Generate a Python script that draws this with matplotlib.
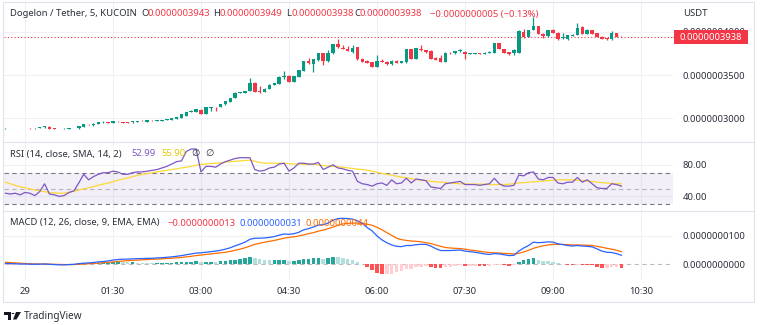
import numpy as np
import matplotlib.pyplot as plt
from matplotlib.lines import Line2D
from matplotlib.patches import Rectangle, Circle, Polygon

plt.rcParams['font.family'] = ['Noto Sans', 'DejaVu Sans']

# ---- data -----------------------------------------------------------------
# 5-minute candles, prices in units of 1e-10 USDT, first bar at 23:40
FIRST_BAR_MIN = -20
BAR_MIN = 5

OPEN = [2883, 2889, 2887, 2884, 2888, 2886, 2882, 2888, 2895, 2903,
        2882, 2876, 2874, 2880, 2884, 2882, 2905, 2928, 2918, 2932,
        2954, 2956, 2942, 2962, 2958, 2952, 2953, 2962, 2970, 2962,
        2972, 2966, 2972, 2978, 2985, 2992, 3002, 3032, 3076, 3072,
        3100, 3053, 3122, 3122, 3127, 3160, 3192, 3232, 3296, 3290,
        3315, 3410, 3310, 3300, 3340, 3385, 3400, 3480, 3490, 3420,
        3482, 3546, 3660, 3625, 3670, 3750, 3660, 3750, 3858, 3812,
        3800, 3762, 3820, 3690, 3660, 3650, 3596, 3660, 3655, 3625,
        3665, 3640, 3645, 3800, 3690, 3805, 3785, 3780, 3700, 3700,
        3655, 3760, 3750, 3775, 3770, 3748, 3745, 3750, 3748, 3752,
        3760, 3866, 3800, 3765, 3750, 3760, 4000, 3940, 4020, 4065,
        3975, 3945, 4020, 3990, 3925, 3912, 3955, 3962, 4060, 3975,
        4020, 3980, 3940, 3925, 3915, 3980, 3943]
HIGH = [2889, 2891, 2889, 2889, 2890, 2888, 2890, 2897, 2910, 2906,
        2884, 2878, 2882, 2886, 2890, 2912, 2936, 2932, 2940, 2956,
        2966, 2958, 2967, 2966, 2960, 2954, 2967, 2974, 2976, 2982,
        2976, 2979, 2982, 2993, 3008, 3020, 3048, 3072, 3090, 3106,
        3104, 3128, 3132, 3135, 3166, 3201, 3240, 3298, 3304, 3318,
        3460, 3425, 3370, 3345, 3392, 3412, 3490, 3550, 3495, 3492,
        3560, 3662, 3700, 3684, 3755, 3760, 3790, 3860, 3920, 3850,
        3840, 3850, 3825, 3700, 3670, 3655, 3730, 3690, 3662, 3670,
        3672, 3665, 3805, 3805, 3815, 3850, 3790, 3785, 3705, 3730,
        3762, 3768, 3782, 3800, 3775, 3760, 3760, 3755, 3762, 3775,
        3872, 3870, 3805, 3770, 3795, 4015, 4030, 4025, 4173, 4070,
        3980, 4025, 4030, 3995, 3990, 3965, 3970, 4100, 4065, 4030,
        4025, 3985, 3945, 3930, 4010, 3985, 3949]
LOW = [2881, 2884, 2882, 2882, 2883, 2880, 2881, 2886, 2893, 2872,
       2872, 2873, 2872, 2878, 2882, 2880, 2903, 2918, 2915, 2930,
       2950, 2940, 2940, 2958, 2949, 2948, 2951, 2960, 2965, 2960,
       2966, 2964, 2970, 2976, 2983, 2990, 3000, 3030, 3074, 3070,
       3050, 3050, 3083, 3080, 3125, 3158, 3190, 3230, 3290, 3288,
       3312, 3302, 3296, 3298, 3338, 3383, 3398, 3450, 3418, 3420,
       3478, 3544, 3630, 3540, 3665, 3620, 3655, 3745, 3815, 3795,
       3775, 3758, 3675, 3650, 3635, 3590, 3590, 3645, 3620, 3620,
       3635, 3635, 3640, 3685, 3685, 3780, 3760, 3685, 3668, 3650,
       3650, 3745, 3745, 3770, 3690, 3740, 3740, 3743, 3745, 3750,
       3755, 3795, 3752, 3730, 3730, 3755, 3928, 3935, 4015, 3970,
       3930, 3940, 3985, 3905, 3920, 3908, 3950, 3958, 3970, 3970,
       3970, 3935, 3915, 3908, 3910, 3940, 3938]
CLOSE = [2888, 2885, 2884, 2888, 2884, 2882, 2888, 2895, 2906, 2875,
         2874, 2874, 2880, 2884, 2888, 2910, 2934, 2922, 2938, 2954,
         2956, 2942, 2965, 2961, 2951, 2950, 2965, 2972, 2968, 2980,
         2970, 2977, 2980, 2992, 3007, 3018, 3046, 3070, 3086, 3104,
         3053, 3127, 3126, 3120, 3165, 3200, 3238, 3296, 3300, 3315,
         3404, 3307, 3300, 3342, 3390, 3410, 3480, 3490, 3420, 3488,
         3557, 3660, 3635, 3680, 3750, 3660, 3750, 3858, 3820, 3800,
         3780, 3812, 3680, 3655, 3640, 3596, 3660, 3650, 3625, 3665,
         3640, 3660, 3800, 3690, 3810, 3785, 3765, 3690, 3673, 3655,
         3758, 3750, 3778, 3785, 3745, 3755, 3756, 3748, 3758, 3770,
         3866, 3800, 3758, 3745, 3789, 4010, 3935, 4020, 4065, 3975,
         3955, 4020, 3990, 3912, 3935, 3962, 3965, 4040, 3975, 4025,
         3975, 3940, 3920, 3912, 3988, 3943, 3938]

RSI = [44, 43, 44, 42, 45, 44, 41, 46, 56, 43, 42, 40, 41, 45, 47, 57, 68, 61,
       65, 68, 70, 70, 72, 71, 68, 68, 70, 71, 71, 72, 73, 74, 76, 78, 81, 84,
       85, 97, 100, 100, 71, 78, 78, 77, 81, 84, 86, 88, 89, 89, 89, 74, 72, 73,
       76, 77, 81, 82, 72, 76, 82, 82, 81, 81, 83, 74, 77, 80, 76, 75, 73, 72,
       59, 56, 55, 53, 56, 57, 54, 61, 56, 57, 63, 57, 62, 61, 60, 52, 51, 50,
       56, 57, 58, 59, 55, 55, 55, 54, 55, 56, 63, 56, 53, 53, 54, 67, 66, 70,
       71, 62, 61, 64, 64, 57, 56, 58, 58, 64, 58, 61, 56, 51, 50, 50, 56, 55,
       52.99]
RSI_SMA = [58, 56, 54, 52, 51, 49.5, 48, 47, 46, 45, 44.5, 44, 44, 45, 46.5,
           48, 49.5, 51, 52.5, 54, 55.5, 57, 58.5, 60.5, 62, 63.5, 65, 66.5,
           68, 69, 70, 71, 72, 73, 74, 75, 76, 77, 78, 79.5, 80.5, 81, 81.5,
           82, 82.5, 83.5, 84, 84.5, 85, 85.5, 86, 84.5, 83, 82, 82, 82, 82,
           82, 81.5, 81, 81, 80.5, 80.5, 80.5, 80, 79, 78.5, 78, 77.5, 77, 76,
           75.5, 74.5, 74, 73, 72, 70.5, 69, 68, 67, 65.5, 64.5, 63.5, 62.5,
           61.5, 60.5, 60, 59, 58.5, 58, 57.5, 57, 56.5, 56, 56, 55.5, 55.5,
           55.5, 55.5, 55, 55, 55, 55, 55.5, 56, 57, 57.5, 58, 58.5, 59, 59.5,
           60, 60.5, 61, 61, 61, 61, 60.5, 60, 59.5, 59, 58, 57.5, 57, 56.5,
           56, 55.90]

# MACD and signal in units of 1e-9
MACD = [0.2, 0.15, 0.1, 0.0, 0.0, -0.05, -0.1, -0.05, 0.0, -0.1, -0.2, -0.3,
        -0.3, -0.2, -0.1, 0.1, 0.3, 0.4, 0.55, 0.75, 0.9, 1.1, 1.4, 1.6, 1.7,
        1.75, 1.85, 1.9, 1.95, 2.0, 2.05, 2.15, 2.25, 2.4, 2.55, 2.75, 3.0,
        3.3, 3.6, 3.9, 4.0, 4.2, 4.4, 4.6, 4.9, 5.3, 5.8, 6.5, 7.1, 7.8, 8.8,
        9.2, 9.2, 9.3, 9.5, 9.8, 10.3, 10.7, 10.6, 10.8, 11.3, 12.2, 12.6, 13.2,
        13.9, 14.0, 14.6, 15.6, 16.2, 16.3, 16.2, 16.0, 15.4, 14.5, 13.0, 11.8,
        10.0, 8.6, 7.6, 6.8, 6.3, 6.2, 6.6, 6.6, 6.9, 7.0, 7.0, 6.4, 5.5, 4.8,
        4.8, 4.8, 4.9, 5.0, 4.6, 4.4, 4.2, 3.9, 3.6, 3.4, 3.7, 3.6, 3.3, 3.0,
        3.1, 4.6, 5.7, 6.6, 7.8, 7.6, 7.7, 7.9, 7.8, 7.2, 6.9, 6.6, 6.4, 6.6,
        6.4, 6.3, 6.1, 5.4, 4.6, 4.2, 4.1, 3.7, 3.1]
SIGNAL = [0.6, 0.5, 0.4, 0.3, 0.2, 0.1, 0.05, 0.0, 0.0, -0.05, -0.1, -0.15,
          -0.2, -0.2, -0.2, -0.1, 0.0, 0.1, 0.2, 0.35, 0.45, 0.6, 0.75, 0.9,
          1.05, 1.2, 1.3, 1.4, 1.5, 1.6, 1.7, 1.75, 1.85, 1.95, 2.05, 2.2,
          2.35, 2.55, 2.75, 3.0, 3.2, 3.4, 3.6, 3.8, 4.0, 4.2, 4.5, 4.9, 5.3,
          5.8, 6.4, 7.0, 7.4, 7.8, 8.1, 8.4, 8.8, 9.2, 9.5, 9.7, 10.0, 10.4,
          10.8, 11.2, 11.7, 12.1, 12.6, 13.2, 13.8, 14.3, 14.5, 14.6, 14.6,
          14.5, 14.2, 13.8, 13.1, 12.2, 11.2, 10.2, 9.2, 8.7, 8.4, 8.2, 8.1,
          7.9, 7.6, 7.3, 6.8, 6.3, 5.9, 5.7, 5.6, 5.5, 5.3, 5.0, 4.8, 4.5, 4.3,
          4.1, 4.0, 3.9, 3.8, 3.7, 3.6, 3.8, 4.3, 4.9, 5.6, 6.1, 6.5, 6.8, 7.0,
          7.0, 7.0, 6.9, 6.8, 6.8, 6.75, 6.7, 6.6, 6.3, 6.0, 5.6, 5.3, 4.9,
          4.4]

TIME_TICKS = [0, 90, 180, 270, 360, 450, 540, 630]
TIME_LABELS = ['29', '01:30', '03:00', '04:30', '06:00', '07:30', '09:00', '10:30']
PRICE_TICKS = [3000, 3500, 4000]
RSI_TICKS = [40, 80]
MACD_TICKS = [0, 10]

# ---- colours ----------------------------------------------------------------
UP, DOWN = '#089981', '#f23645'
TXT = '#2a2e39'
GRID = '#eef0f4'
SEP = '#e0e3eb'

W, H = 760, 325
fig = plt.figure(figsize=(W / 100, H / 100), dpi=100)


def fx(px):
    return px / W


def fy(py):
    return 1 - py / H


def px_axes(x0, y0, x1, y1):
    ax = fig.add_axes([fx(x0), fy(y1), fx(x1 - x0), (y1 - y0) / H])
    for s in ax.spines.values():
        s.set_visible(False)
    ax.set_facecolor('none')
    return ax


PLOT_L, PLOT_R = 4, 673
ax_p = px_axes(PLOT_L, 3, PLOT_R, 142)
ax_r = px_axes(PLOT_L, 142, PLOT_R, 211)
ax_m = px_axes(PLOT_L, 211, PLOT_R, 280)

n = len(CLOSE)
t = FIRST_BAR_MIN + BAR_MIN * np.arange(n)
o, h, l, c = (np.array(a, dtype=float) for a in (OPEN, HIGH, LOW, CLOSE))
xmin = (PLOT_L - 25) * 90 / 88
xmax = (PLOT_R - 25) * 90 / 88

for ax in (ax_p, ax_r, ax_m):
    ax.set_xlim(xmin, xmax)
    ax.set_xticks(TIME_TICKS)
    for tk in TIME_TICKS:
        ax.axvline(tk, color=GRID, lw=0.8, zorder=0)
    ax.tick_params(axis='both', length=0, labelsize=6.8, labelcolor=TXT)
    ax.yaxis.tick_right()
    ax.tick_params(axis='y', pad=7)
    ax.tick_params(axis='x', labelbottom=False)

# ---- price panel ------------------------------------------------------------
ax_p.set_ylim(2726, 4332)
ax_p.set_yticks(PRICE_TICKS)
ax_p.set_yticklabels([f'{v * 1e-10:.10f}' for v in PRICE_TICKS])
for v in PRICE_TICKS:
    ax_p.axhline(v, color=GRID, lw=0.8, zorder=0)

cols = np.where(c >= o, UP, DOWN)
ax_p.vlines(t, l, h, colors=cols, lw=0.9, zorder=2)
body = np.maximum(np.abs(c - o), 1.3)
ax_p.bar(t, body, bottom=np.minimum(o, c), width=3.6, color=cols, lw=0, zorder=3)

last = c[-1]
ax_p.axhline(last, color=DOWN, lw=0.8, ls=(0, (1, 2)), zorder=1, clip_on=False)
fig.add_artist(Line2D([fx(PLOT_R), fx(674)], [fy(37), fy(37)], color=DOWN,
                      lw=0.8, ls=(0, (1, 2))))
fig.add_artist(Rectangle((fx(674), fy(44)), fx(74), 14 / H, color=DOWN, lw=0))
fig.text(fx(711), fy(37), f'{last * 1e-10:.10f}', color='white', fontsize=6.8,
         ha='center', va='center')
fig.text(fx(683), fy(14), 'USDT', color=TXT, fontsize=6.8, va='center')

# ---- RSI panel --------------------------------------------------------------
ax_r.set_ylim(21.5, 108.9)
ax_r.set_yticks(RSI_TICKS)
ax_r.set_yticklabels([f'{v:.2f}' for v in RSI_TICKS])
for v in RSI_TICKS:
    ax_r.axhline(v, color=GRID, lw=0.8, zorder=0)
ax_r.axhspan(30, 70, color='#7e57c2', alpha=0.09, lw=0, zorder=0)
for v, a in ((70, 1), (50, 0.5), (30, 1)):
    ax_r.axhline(v, color='#787b86', lw=0.8, ls=(0, (4, 3)), alpha=a, zorder=1)
ax_r.plot(t, RSI_SMA, color='#fdd835', lw=0.9, zorder=2)
ax_r.plot(t, RSI, color='#7e57c2', lw=0.9, zorder=3)

# ---- MACD panel -------------------------------------------------------------
macd = np.array(MACD)
sig = np.array(SIGNAL)
hist = macd - sig
ax_m.set_ylim(-5.7, 18.9)
ax_m.set_yticks(MACD_TICKS)
ax_m.set_yticklabels([f'{v * 1e-9:.10f}' for v in MACD_TICKS])
ax_m.axhline(10, color=GRID, lw=0.8, zorder=0)
ax_m.axhline(0, color='#787b86', lw=0.8, ls=(0, (4, 3)), alpha=0.5, zorder=1)

prev = np.concatenate([[hist[0]], hist[:-1]])
hcols = np.where(hist >= 0,
                 np.where(hist >= prev, '#26a69a', '#b2dfdb'),
                 np.where(hist < prev, '#ff5252', '#ffcdd2'))
ax_m.bar(t, hist, width=3.6, color=hcols, lw=0, zorder=2)
ax_m.plot(t, sig, color='#ff6d00', lw=0.9, zorder=3)
ax_m.plot(t, macd, color='#2962ff', lw=0.9, zorder=4)

ax_m.tick_params(axis='x', labelbottom=True, pad=5)
ax_m.set_xticklabels(TIME_LABELS)

# ---- frame and separators ---------------------------------------------------
for py in (142, 211):
    fig.add_artist(Line2D([fx(3), fx(753)], [fy(py), fy(py)], color=SEP, lw=0.8))
fig.add_artist(Rectangle((fx(2.5), fy(302)), fx(751), 300 / H, fill=False,
                         ec=SEP, lw=0.8))

# ---- header and legends -----------------------------------------------------
FS = 6.8
fig.text(fx(10), fy(14), 'Dogelon / Tether, 5, KUCOIN', color=TXT, fontsize=FS,
         va='center')
for px, key, val in ((141, 'O', o[-1]), (213, 'H', h[-1]), (286, 'L', l[-1]),
                     (354, 'C', c[-1])):
    fig.text(fx(px), fy(14), key, color=TXT, fontsize=FS, va='center')
    fig.text(fx(px + 6), fy(14), f'{val * 1e-10:.10f}', color=DOWN, fontsize=FS,
             va='center')
chg = c[-1] - c[-2]
fig.text(fx(430), fy(14),
         f'\u2212{abs(chg) * 1e-10:.10f} (\u2212{abs(chg) / c[-2] * 100:.2f}%)',
         color=DOWN, fontsize=FS, va='center')

fig.text(fx(10), fy(154), 'RSI (14, close, SMA, 14, 2)', color=TXT, fontsize=FS,
         va='center')
fig.text(fx(131), fy(154), f'{RSI[-1]:.2f}', color='#7e57c2', fontsize=FS,
         va='center')
fig.text(fx(161), fy(154), f'{RSI_SMA[-1]:.2f}', color='#e6c700', fontsize=FS,
         va='center')
fig.text(fx(191), fy(154), '\u2205', color=TXT, fontsize=FS, va='center')
fig.text(fx(205), fy(154), '\u2205', color=TXT, fontsize=FS, va='center')

fig.text(fx(10), fy(223), 'MACD (12, 26, close, 9, EMA, EMA)', color=TXT,
         fontsize=FS, va='center')
fig.text(fx(168), fy(223), f'\u2212{abs(hist[-1]) * 1e-9:.10f}', color=DOWN,
         fontsize=FS, va='center')
fig.text(fx(240), fy(223), f'{macd[-1] * 1e-9:.10f}', color='#2962ff',
         fontsize=FS, va='center')
fig.text(fx(305), fy(223), f'{sig[-1] * 1e-9:.10f}', color='#ff6d00',
         fontsize=FS, va='center')

# TradingView mark: bar-and-stem, dot, slanted stroke
LOGO = '#131722'
fig.add_artist(Rectangle((fx(4), fy(314.5)), fx(6.5), 2.5 / H, color=LOGO, lw=0))
fig.add_artist(Rectangle((fx(7.5), fy(319.5)), fx(3), 7.5 / H, color=LOGO, lw=0))
fig.add_artist(Circle((fx(13), fy(313.5)), fx(1.4), color=LOGO, lw=0))
fig.add_artist(Polygon([(fx(16), fy(312)), (fx(21), fy(312)), (fx(16.5), fy(319.5)),
                        (fx(13), fy(319.5))], closed=True, color=LOGO, lw=0))
fig.text(fx(24), fy(316), 'TradingView', color=TXT, fontsize=7.2, va='center')

fig.savefig('out.png', dpi=100, facecolor='white')
